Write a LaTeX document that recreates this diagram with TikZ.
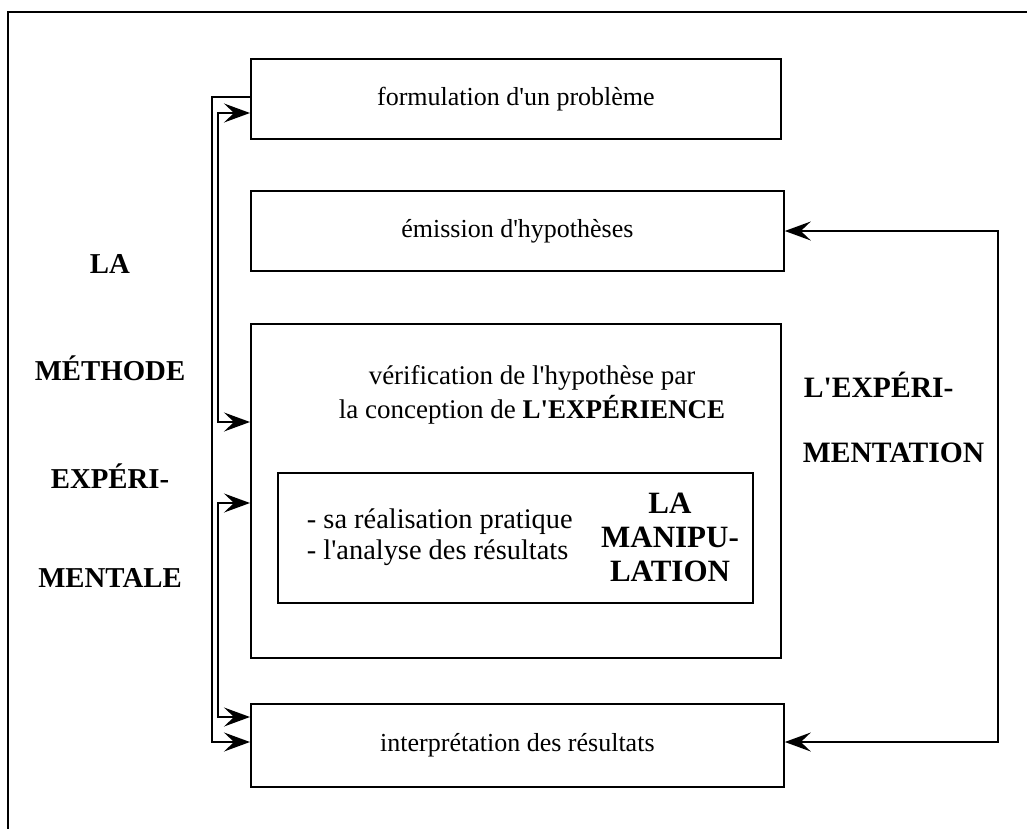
\documentclass[tikz,border=0pt]{standalone}
\usepackage{fontspec}
\setmainfont{Liberation Serif}
\usetikzlibrary{arrows.meta}
\newcommand{\ap}{\textquotesingle}
\begin{document}
\begin{tikzpicture}[x=0.5pt,y=-0.5pt,
  line width=0.9pt,
  box/.style={draw, rectangle, anchor=north west, inner sep=0pt},
  txt/.style={font=\fontsize{13}{15}\selectfont, inner sep=0pt, align=center},
  big/.style={font=\fontsize{14.4}{16}\selectfont\bfseries, inner sep=0pt, align=center},
  tip/.tip={Stealth[length=13pt,width=9.5pt,inset=5pt]},
  arr/.style={-tip},
  darr/.style={tip-tip}]
\useasboundingbox (0,0) rectangle (1027,829);
% outer frame (open on right and bottom)
\draw (1027,12) -- (8,12) -- (8,829);
% boxes
\node[box, minimum width=265pt, minimum height=40pt] (f) at (250,58) {};
\node[txt] (ftxt) at (f.center) {formulation d\ap un problème};
\node[box, minimum width=266.5pt, minimum height=40pt] (e) at (250,190) {};
\node[txt] (etxt) at (e.center) {émission d\ap hypothèses};
\node[box, minimum width=265pt, minimum height=167pt] (v) at (250,323) {};
\node[txt, font=\fontsize{13.5}{17}\selectfont] (vtxt) at (532,395) {vérification de l\ap hypothèse par\\la conception de \textbf{L\ap EXPÉRIENCE}};
\node[box, minimum width=237.5pt, minimum height=65pt] (m) at (277,472) {};
\node[txt, font=\fontsize{14.2}{15.3}\selectfont, align=left, anchor=west] (mtxt) at (306,537) {- sa réalisation pratique\\- l\ap analyse des résultats};
\node[big, font=\fontsize{15.5}{17}\selectfont\bfseries] (mlab) at (670,537) {LA\\MANIPU-\\LATION};
\node[box, minimum width=266.5pt, minimum height=41.5pt] (i) at (250,703) {};
\node[txt] (itxt) at (i.center) {interprétation des résultats};
% side labels
\node[big] (l1) at (110,264) {LA};
\node[big] (l2) at (110,368) {MÉTHODE};
\node[big] (l3) at (110,476) {EXPÉRI-};
\node[big] (l4) at (110,578) {MENTALE};
\node[big, anchor=west, font=\fontsize{14.8}{16}\selectfont\bfseries] (r1) at (803,385) {L\ap EXPÉRI-};
\node[big, anchor=west, font=\fontsize{14.8}{16}\selectfont\bfseries] (r2) at (802,453) {MENTATION};
% left connectors
\coordinate (o1) at (212,97);
\coordinate (a1) at (218,113);
\coordinate (b1) at (218,503);
\draw[arr] (f.west |- o1) -- (o1) |- (i.west |- 0,742);
\draw[darr] (f.west |- a1) -- (a1) |- (v.west |- 0,422);
\draw[darr] (v.west |- b1) -- (b1) |- (i.west |- 0,717);
% right connector
\coordinate (rc) at (998,742);
\draw[darr] (i.east |- rc) -- (rc) |- (e.east |- 0,231);
\end{tikzpicture}
\end{document}
